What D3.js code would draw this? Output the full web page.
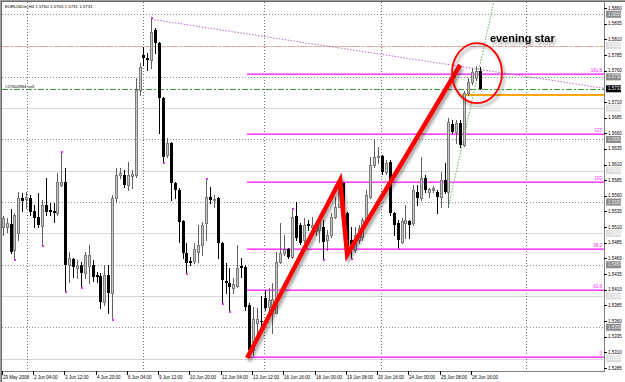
<!DOCTYPE html>
<html><head><meta charset="utf-8">
<script src="https://cdn.jsdelivr.net/npm/d3@7"></script>
<style>
html,body{margin:0;padding:0;background:#fff;}
svg{display:block;}
text{font-family:"Liberation Sans",Arial,sans-serif;}
</style></head><body>
<svg id="chart" width="625" height="382"></svg>
<script>
// ---- data (EURUSDm, H4) ----
const symbolTitle = "EURUSDm,H4  1.5760 1.5765 1.5731 1.5731";
const opens  = [1.5510,1.5510,1.5515,1.5474,1.5501,1.5557,1.5555,1.5557,1.5536,1.5526,1.5512,1.5545,1.5537,1.5536,1.5533,1.5578,1.5582,1.5450,1.5459,1.5445,1.5450,1.5437,1.5448,1.5450,1.5434,1.5432,1.5391,1.5434,1.5405,1.5557,1.5593,1.5593,1.5577,1.5592,1.5593,1.5729,1.5785,1.5780,1.5777,1.5825,1.5804,1.5716,1.5625,1.5644,1.5580,1.5569,1.5520,1.5469,1.5456,1.5456,1.5470,1.5482,1.5517,1.5558,1.5553,1.5557,1.5485,1.5424,1.5421,1.5413,1.5416,1.5448,1.5446,1.5386,1.5314,1.5357,1.5360,1.5397,1.5383,1.5373,1.5373,1.5454,1.5469,1.5475,1.5462,1.5528,1.5513,1.5490,1.5515,1.5510,1.5504,1.5505,1.5510,1.5490,1.5498,1.5526,1.5542,1.5580,1.5533,1.5490,1.5474,1.5490,1.5494,1.5521,1.5558,1.5609,1.5622,1.5624,1.5598,1.5614,1.5533,1.5517,1.5486,1.5517,1.5520,1.5517,1.5566,1.5557,1.5588,1.5566,1.5569,1.5566,1.5558,1.5585,1.5566,1.5675,1.5662,1.5676,1.5641,1.5724,1.5742,1.5748,1.5760];
const highs  = [1.5528,1.5525,1.5539,1.5533,1.5566,1.5565,1.5566,1.5561,1.5545,1.5565,1.5553,1.5589,1.5549,1.5549,1.5597,1.5629,1.5604,1.5470,1.5461,1.5458,1.5454,1.5470,1.5482,1.5458,1.5438,1.5437,1.5450,1.5450,1.5561,1.5604,1.5604,1.5601,1.5614,1.5601,1.5748,1.5772,1.5798,1.5788,1.5842,1.5828,1.5806,1.5718,1.5652,1.5646,1.5582,1.5572,1.5521,1.5485,1.5462,1.5485,1.5513,1.5518,1.5585,1.5574,1.5561,1.5558,1.5486,1.5453,1.5445,1.5429,1.5482,1.5461,1.5450,1.5389,1.5382,1.5381,1.5400,1.5410,1.5413,1.5421,1.5470,1.5517,1.5498,1.5477,1.5537,1.5550,1.5517,1.5525,1.5521,1.5526,1.5513,1.5529,1.5521,1.5505,1.5533,1.5558,1.5582,1.5580,1.5534,1.5510,1.5510,1.5513,1.5525,1.5569,1.5622,1.5651,1.5638,1.5625,1.5617,1.5617,1.5534,1.5521,1.5525,1.5545,1.5521,1.5577,1.5577,1.5622,1.5593,1.5572,1.5576,1.5569,1.5598,1.5612,1.5685,1.5681,1.5681,1.5681,1.5728,1.5748,1.5764,1.5767,1.5765];
const lows   = [1.5497,1.5502,1.5469,1.5461,1.5490,1.5536,1.5541,1.5529,1.5510,1.5510,1.5483,1.5529,1.5529,1.5518,1.5529,1.5575,1.5410,1.5423,1.5430,1.5429,1.5416,1.5429,1.5421,1.5424,1.5423,1.5381,1.5386,1.5373,1.5365,1.5550,1.5588,1.5574,1.5569,1.5572,1.5590,1.5721,1.5769,1.5761,1.5764,1.5788,1.5660,1.5616,1.5622,1.5553,1.5556,1.5486,1.5461,1.5438,1.5450,1.5453,1.5454,1.5466,1.5490,1.5549,1.5542,1.5461,1.5390,1.5405,1.5378,1.5405,1.5415,1.5430,1.5378,1.5302,1.5306,1.5341,1.5354,1.5378,1.5367,1.5341,1.5373,1.5453,1.5466,1.5461,1.5461,1.5490,1.5483,1.5486,1.5505,1.5497,1.5497,1.5486,1.5461,1.5474,1.5494,1.5525,1.5542,1.5526,1.5474,1.5462,1.5470,1.5485,1.5490,1.5518,1.5557,1.5606,1.5612,1.5595,1.5595,1.5529,1.5497,1.5478,1.5485,1.5493,1.5493,1.5513,1.5545,1.5553,1.5566,1.5558,1.5566,1.5533,1.5542,1.5565,1.5542,1.5660,1.5644,1.5638,1.5640,1.5721,1.5739,1.5745,1.5731];
const closes = [1.5525,1.5517,1.5470,1.5529,1.5557,1.5552,1.5558,1.5534,1.5525,1.5513,1.5545,1.5534,1.5534,1.5533,1.5582,1.5582,1.5450,1.5461,1.5446,1.5450,1.5437,1.5466,1.5466,1.5430,1.5430,1.5391,1.5434,1.5405,1.5557,1.5593,1.5596,1.5577,1.5593,1.5595,1.5729,1.5766,1.5780,1.5777,1.5822,1.5804,1.5716,1.5622,1.5644,1.5580,1.5569,1.5518,1.5469,1.5453,1.5453,1.5475,1.5482,1.5513,1.5558,1.5553,1.5555,1.5485,1.5426,1.5421,1.5415,1.5419,1.5445,1.5445,1.5383,1.5314,1.5363,1.5363,1.5359,1.5381,1.5394,1.5395,1.5454,1.5469,1.5475,1.5462,1.5526,1.5493,1.5485,1.5513,1.5512,1.5513,1.5510,1.5521,1.5486,1.5498,1.5526,1.5542,1.5578,1.5533,1.5478,1.5477,1.5498,1.5509,1.5521,1.5561,1.5609,1.5622,1.5624,1.5598,1.5612,1.5533,1.5513,1.5490,1.5520,1.5521,1.5513,1.5569,1.5557,1.5588,1.5569,1.5571,1.5572,1.5558,1.5585,1.5566,1.5678,1.5662,1.5676,1.5641,1.5724,1.5742,1.5758,1.5760,1.5731];
const upFractals = [15, 38, 52, 74];
const downFractals = [3, 10, 16, 20, 28, 41, 47, 56, 58, 82, 89, 101];

const timeLabels = ["29 May 2008","2 Jun 04:00","3 Jun 12:00","4 Jun 20:00","6 Jun 04:00","9 Jun 12:00","10 Jun 20:00","12 Jun 04:00","13 Jun 12:00","16 Jun 16:00","18 Jun 00:00","19 Jun 08:00","20 Jun 16:00","24 Jun 00:00","25 Jun 08:00","26 Jun 16:00"];
const timeLabelBars = [0,8,16,24,32,40,48,56,64,72,80,88,96,104,112,120];
const weekSeparators = [6.2, 35.9, 66.8, 96.8, 133.8];

const priceTicks = [1.5860,1.5835,1.5810,1.5785,1.5760,1.5710,1.5685,1.5660,1.5635,1.5610,1.5585,1.5560,1.5535,1.5510,1.5485,1.5460,1.5435,1.5410,1.5385,1.5360,1.5335,1.5310,1.5285];
const dottedLevels = [1.5850,1.5750,1.5650,1.5550,1.5450,1.5350];
const solidLevels  = [1.5800,1.5700,1.5600,1.5500,1.5400,1.5300];

const fibLabels = ["0","38.2","61.8","100","127","161.8"];
const fibPrices = [1.5302,1.5475,1.5409,1.5582,1.5658,1.5755];
const fibStartBar = 62.5;

const orderPrice = 1.5731, orderLabel = "#27602864 sell";
const salmonPrice = 1.5800;
const orangePrice = 1.5721, orangeStartBar = 117.5;
const purpleBars = [38, 122], purplePrices = [1.5842, 1.5762];
const greenBars = [114, 124.6], greenPrices = [1.5542, 1.5841];
const redBars = [62.5, 86.3, 88.1, 117], redPrices = [1.5301, 1.5585, 1.5466, 1.5769];
const ellipseBar = 121.3, ellipsePrice = 1.5756;
const noteBar = 124.6, notePrice = 1.5806, noteText = "evening star";

// ---- layout ----
const W = 625, H = 382;
const plot = {l: 2, t: 2, r: 604, b: 371};
const n = opens.length;
const x = d3.scaleLinear().domain([0, n - 1]).range([2.7, 2.7 + (n - 1) * 3.91]);
const y = d3.scaleLinear().domain([1.5285, 1.5860]).range([368, 8]);
const barMax = x.invert(plot.r);

const svg = d3.select("#chart");
const defs = svg.append("defs");
defs.append("clipPath").attr("id","clip").append("rect")
  .attr("x", plot.l).attr("y", plot.t).attr("width", plot.r - plot.l).attr("height", plot.b - plot.t);
const f = defs.append("filter").attr("id","shadow").attr("x","-20%").attr("y","-20%").attr("width","140%").attr("height","140%");
f.append("feDropShadow").attr("dx",2).attr("dy",3).attr("stdDeviation",1.6).attr("flood-color","#000").attr("flood-opacity",0.35);

svg.append("rect").attr("width", W).attr("height", H).attr("fill", "#fff");
// window frame
svg.append("line").attr("x1",0.5).attr("x2",0.5).attr("y1",0).attr("y2",H).attr("stroke","#a0a0a0");
svg.append("line").attr("x1",1.5).attr("x2",1.5).attr("y1",1).attr("y2",H).attr("stroke","#696969");
svg.append("line").attr("x1",0).attr("x2",W).attr("y1",0.5).attr("y2",0.5).attr("stroke","#a0a0a0");
svg.append("line").attr("x1",1).attr("x2",W).attr("y1",1.5).attr("y2",1.5).attr("stroke","#696969");

const g = svg.append("g").attr("clip-path","url(#clip)").attr("shape-rendering","crispEdges");
const cy = v => Math.round(y(v)) + 0.5;

// grid
g.selectAll(null).data(solidLevels).enter().append("line")
  .attr("x1", plot.l).attr("x2", plot.r).attr("y1", cy).attr("y2", cy)
  .attr("stroke","#d8d8d8");
g.selectAll(null).data(dottedLevels).enter().append("line")
  .attr("x1", plot.l).attr("x2", plot.r).attr("y1", cy).attr("y2", cy)
  .attr("stroke","#909090").attr("stroke-dasharray","1,2");
g.selectAll(null).data(weekSeparators).enter().append("line")
  .attr("x1", d => Math.round(x(d)) + 0.5).attr("x2", d => Math.round(x(d)) + 0.5)
  .attr("y1", plot.t).attr("y2", plot.b)
  .attr("stroke","#707070").attr("stroke-dasharray","1,2");

// salmon level + order line
g.append("line").attr("x1", plot.l).attr("x2", plot.r).attr("y1", cy(salmonPrice)).attr("y2", cy(salmonPrice))
  .attr("stroke","#f0a890").attr("stroke-width",1.4).attr("stroke-dasharray","7,2,2,2");
g.append("line").attr("x1", plot.l).attr("x2", plot.r).attr("y1", cy(orderPrice)).attr("y2", cy(orderPrice))
  .attr("stroke","#3c9c3c").attr("stroke-width",1).attr("stroke-dasharray","6,2,2,2");
g.append("text").attr("x", 5).attr("y", cy(orderPrice) - 2).attr("font-size", 4.3).attr("fill","#000").text(orderLabel);

// fib levels
g.selectAll(null).data(fibPrices).enter().append("rect")
  .attr("x", Math.round(x(fibStartBar))).attr("width", plot.r - Math.round(x(fibStartBar)))
  .attr("y", d => Math.round(y(d)) - 1).attr("height", 2)
  .attr("fill","#ff8cff");
g.selectAll(null).data(fibPrices).enter().append("rect")
  .attr("x", Math.round(x(fibStartBar))).attr("width", plot.r - Math.round(x(fibStartBar)))
  .attr("y", d => Math.round(y(d))).attr("height", 1)
  .attr("fill","#ff40ff");
g.selectAll(null).data(fibPrices).enter().append("text")
  .attr("x", plot.r - 2).attr("y", d => Math.round(y(d)) - 2).attr("text-anchor","end")
  .attr("font-size", 4.5).attr("fill","#ff20ff").text((d, i) => fibLabels[i]);

// orange line
g.append("rect").attr("x", Math.round(x(orangeStartBar))).attr("width", plot.r - Math.round(x(orangeStartBar)))
  .attr("y", Math.round(y(orangePrice)) - 1).attr("height", 2).attr("fill","#ffa500");

// purple dotted trend line (ray to the right)
{
  const s = (purplePrices[1] - purplePrices[0]) / (purpleBars[1] - purpleBars[0]);
  g.append("line").attr("x1", x(purpleBars[0])).attr("y1", y(purplePrices[0]))
    .attr("x2", x(barMax)).attr("y2", y(purplePrices[0] + s * (barMax - purpleBars[0])))
    .attr("shape-rendering","auto")
    .attr("stroke","#b070c0").attr("stroke-width",1).attr("stroke-dasharray","1.5,1.5");
}
// green dotted line
{
  const s = (greenPrices[1] - greenPrices[0]) / (greenBars[1] - greenBars[0]);
  const b2 = greenBars[0] + (1.5880 - greenPrices[0]) / s;
  g.append("line").attr("x1", x(greenBars[0])).attr("y1", y(greenPrices[0]))
    .attr("x2", x(b2)).attr("y2", y(1.5880))
    .attr("shape-rendering","auto")
    .attr("stroke","#60b060").attr("stroke-width",1).attr("stroke-dasharray","1.5,1.5");
}

// candles
const idx = d3.range(n);
const cx = i => Math.round(x(i));
const up = i => closes[i] >= opens[i];
g.selectAll(null).data(idx).enter().append("line")
  .attr("x1", i => cx(i) + 0.5).attr("x2", i => cx(i) + 0.5)
  .attr("y1", i => Math.round(y(highs[i]))).attr("y2", i => Math.round(y(lows[i])) + 1)
  .attr("stroke", i => up(i) ? "#606060" : "#000");
g.selectAll(null).data(idx).enter().append("rect")
  .attr("x", i => up(i) ? cx(i) - 0.5 : cx(i) - 1)
  .attr("y", i => up(i) ? Math.round(y(closes[i])) + 0.5 : Math.round(y(opens[i])))
  .attr("width", i => up(i) ? 2 : 3)
  .attr("height", i => Math.max(up(i) ? 0.01 : 1, Math.abs(Math.round(y(opens[i])) - Math.round(y(closes[i])))))
  .attr("fill", i => up(i) ? "#c8c8c8" : "#000")
  .attr("stroke", i => up(i) ? "#7a7a7a" : "none");
// fractals
g.selectAll(null).data(upFractals).enter().append("rect")
  .attr("x", i => cx(i)).attr("y", i => Math.round(y(highs[i])) - 2).attr("width",2).attr("height",2).attr("fill","#d040d0");
g.selectAll(null).data(downFractals).enter().append("rect")
  .attr("x", i => cx(i)).attr("y", i => Math.round(y(lows[i])) + 1).attr("width",2).attr("height",2).attr("fill","#d040d0");

// annotations with shadow
const redLine = d3.line().x((d, i) => x(redBars[i])).y(d => y(d));
svg.append("path").datum(redPrices).attr("d", redLine).attr("fill","none")
  .attr("stroke","#ff0000").attr("stroke-width",4.5).attr("stroke-linejoin","miter").attr("stroke-linecap","butt")
  .attr("filter","url(#shadow)");
svg.append("ellipse").attr("cx", x(ellipseBar)).attr("cy", y(ellipsePrice)).attr("rx", 25).attr("ry", 30)
  .attr("fill","none").attr("stroke","#ff0000").attr("stroke-width",1.8).attr("filter","url(#shadow)");
svg.append("text").attr("x", x(noteBar)).attr("y", y(notePrice)).attr("font-size", 11).attr("font-weight","bold")
  .attr("fill","#000").attr("filter","url(#shadow)").text(noteText);

// header
svg.append("text").attr("x", 5).attr("y", 7.5).attr("font-size", 4.4).attr("fill","#000").text(symbolTitle);

// right axis
const ax = svg.append("g");
ax.append("line").attr("x1", plot.r + 0.5).attr("x2", plot.r + 0.5).attr("y1", plot.t).attr("y2", plot.b)
  .attr("stroke","#808080");
ax.selectAll(null).data(priceTicks).enter().append("line")
  .attr("x1", plot.r).attr("x2", plot.r + 3).attr("y1", cy).attr("y2", cy).attr("stroke","#000");
ax.selectAll(null).data(priceTicks).enter().append("text")
  .attr("x", plot.r + 4).attr("y", d => y(d) + 1.6).attr("font-size", 4.5).attr("fill","#000")
  .text(d => d.toFixed(4));
function box(levels, fill, tcol) {
  const b = ax.selectAll(null).data(levels).enter().append("g");
  b.append("rect").attr("x", plot.r + 2).attr("y", d => y(d) - 3.5).attr("width", 15).attr("height", 7).attr("fill", fill);
  b.append("text").attr("x", plot.r + 4).attr("y", d => y(d) + 1.6).attr("font-size", 4.5).attr("fill", tcol)
    .text(d => d.toFixed(4));
}
box(dottedLevels, "#8c8c8c", "#e8e8e8");
box(solidLevels, "#dedede", "#ffffff");
box([orderPrice], "#000", "#fff");

// bottom axis
const bx = svg.append("g");
bx.append("line").attr("x1", plot.l).attr("x2", plot.r + 1).attr("y1", plot.b + 0.5).attr("y2", plot.b + 0.5).attr("stroke","#808080");
bx.selectAll(null).data(timeLabelBars).enter().append("line")
  .attr("x1", d => cx(d) - 0.5).attr("x2", d => cx(d) - 0.5).attr("y1", plot.b).attr("y2", plot.b + 4).attr("stroke","#000");
bx.selectAll(null).data(timeLabelBars).enter().append("text")
  .attr("x", d => cx(d)).attr("y", plot.b + 7.5).attr("font-size", 4.5).attr("fill","#000")
  .text((d, i) => timeLabels[i]);
</script>
</body></html>
